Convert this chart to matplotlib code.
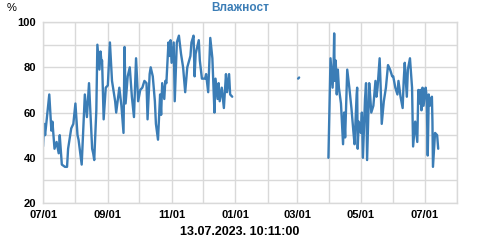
import matplotlib
matplotlib.use("Agg")
import matplotlib.pyplot as plt
import matplotlib.dates as mdates
import numpy as np
import pandas as pd

plt.rcParams['font.family'] = ['Liberation Sans', 'DejaVu Sans']

start = pd.Timestamp("2022-07-01")

# humidity readings, day offsets from 2022-07-01
seg1_days = [0, 1, 2, 6, 8, 9, 11, 13, 15, 16, 18, 21, 23, 24, 27, 29, 31, 33, 34, 37,
             40, 42, 44, 47, 48, 49, 51, 52, 54, 55, 56, 56.5, 58, 60, 62, 64, 66, 69, 70,
             73, 75, 77, 78, 79, 81, 83, 85, 87, 89, 91, 93, 95, 97, 99, 100, 102, 103,
             105, 107, 108, 110, 112, 113, 114, 116, 117, 118, 120, 121, 122, 123, 125,
             126, 128, 130, 132, 134, 136, 138, 141, 142, 144, 145, 146, 149, 150, 152,
             155, 156, 158, 160, 162, 164, 165, 167, 168, 169, 171, 173, 175, 176, 178,
             179, 181]
seg1_vals = [45, 55, 50, 68, 52, 56, 44, 47, 42, 50, 37, 36, 36, 44, 53, 55, 64, 50, 48, 37,
             68, 58, 73, 44, 42, 39, 61, 90, 79, 87, 82, 83, 57, 71, 72, 91, 74, 65, 60,
             71, 63, 51, 89, 64, 76, 80, 67, 58, 84, 65, 70, 71, 74, 73, 57, 77, 80,
             76, 65, 55, 48, 68, 59, 73, 66, 74, 73, 91, 85, 92, 82, 91,
             65, 91, 94, 86, 80, 69, 80, 85, 91, 94, 76, 86, 92, 83, 75,
             75, 77, 69, 93, 84, 60, 75, 66, 73, 65, 71, 62, 77, 69, 77,
             68, 67]

seg2_days = [244, 245]
seg2_vals = [75, 75.5]

seg3_days = [273, 275, 277, 278, 278.5, 279, 280, 281, 282, 283, 285, 287, 288, 289, 291,
             293, 295, 297, 298, 300, 300.5, 301, 302, 304, 305, 306, 308, 309, 310, 312,
             313, 314, 316, 318, 319, 320, 322, 323, 324, 326, 328, 330, 332, 334, 335,
             337, 339, 340, 342, 344, 345, 346, 348, 349, 351, 353, 354, 356, 358, 359,
             360, 361, 362, 363, 364, 366, 367, 368, 369, 370, 372, 372.5, 373, 375, 377,
             378]
seg3_vals = [40, 84, 71, 82, 95, 74, 83, 68, 79, 71, 64, 46, 60, 49, 79,
             71, 62, 51, 46, 68, 71, 44, 56, 51, 60, 40, 66, 73, 39, 73,
             67, 60, 63, 74, 67, 71, 84, 71, 55, 65, 71, 81, 79, 76, 76,
             71, 68, 74, 67, 62, 74, 82, 67, 79, 84, 71, 45, 56, 47, 70,
             64, 70, 61, 71, 63, 71, 67, 41, 68, 63, 67, 56, 36, 51, 50,
             44]

title = "Влажност"
stamp = "13.07.2023. 10:11:00"
line_color = "#3b7db6"

fig = plt.figure(figsize=(4.8, 2.4), dpi=100)
ax = fig.add_axes([0.0896, 0.154, 0.8625, 0.754])

for days, vals in [(seg1_days, seg1_vals), (seg2_days, seg2_vals), (seg3_days, seg3_vals)]:
    x = start + pd.to_timedelta(days, unit="D")
    ax.plot(x, vals, color=line_color, lw=1.7, solid_joinstyle="round",
            solid_capstyle="round")

ax.set_xlim(pd.Timestamp("2022-07-01"), pd.Timestamp("2023-08-01"))
ax.set_ylim(20, 100)
ax.set_yticks([20, 40, 60, 80, 100])
ax.set_yticks([30, 50, 70, 90], minor=True)
ax.xaxis.set_major_locator(mdates.MonthLocator(bymonth=[1, 3, 5, 7, 9, 11]))
ax.xaxis.set_minor_locator(mdates.MonthLocator())
ax.xaxis.set_major_formatter(mdates.DateFormatter("%m/%d"))

ax.grid(True, which="both", color="#d9d9d9", lw=1)
ax.set_axisbelow(True)
for s in ax.spines.values():
    s.set_color("#d9d9d9")
    s.set_linewidth(1)
ax.tick_params(which="both", length=0)
ax.tick_params(axis="y", pad=5)
ax.tick_params(axis="x", pad=5)
for lab in ax.get_xticklabels() + ax.get_yticklabels():
    lab.set_fontweight("bold")
    lab.set_fontsize(8)

fig.text(0.5, 0.965, title, ha="center", va="center", color=line_color,
         fontsize=8.5, fontweight="bold")
fig.text(0.025, 0.965, "%", ha="center", va="center", fontsize=8)
fig.text(0.5, 0.035, stamp, ha="center", va="center", fontsize=9, fontweight="bold")

fig.savefig("out.png", dpi=100)
